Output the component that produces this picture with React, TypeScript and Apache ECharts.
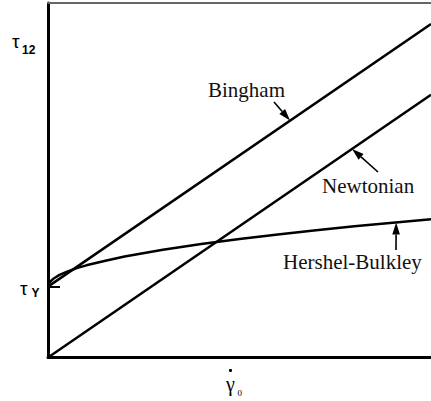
import React, { useEffect, useRef } from "react";
import * as echarts from "echarts";

// Shear stress vs. shear rate for three fluid models (arbitrary units)
const newtonianX = [0, 10];
const newtonianY = [0, 7.41];

const binghamX = [0, 10];
const binghamY = [2, 9.41];

const hbX = [0, 0.05, 0.15, 0.3, 0.5, 0.75, 1, 1.5, 2, 3, 4, 5, 6, 7, 8, 9, 10];
const hbY = [2.0, 2.13, 2.23, 2.33, 2.42, 2.52, 2.6, 2.73, 2.85, 3.04, 3.2, 3.34, 3.47, 3.59, 3.7, 3.8, 3.9];

const yieldStress = 2;

const W = 431;
const H = 401;

const SERIF = "Liberation Serif";
const SANS = "Liberation Sans";

// Callout labels: arrow tail (pixels) and the x value on the curve the arrow points to
const callouts = [
  { name: "Bingham", xs: binghamX, ys: binghamY, atX: 6.32, tail: [274, 102], text: [208, 89.5] },
  { name: "Newtonian", xs: newtonianX, ys: newtonianY, atX: 7.94, tail: [378, 172], text: [322, 185.5] },
  { name: "Hershel-Bulkley", xs: hbX, ys: hbY, atX: 9.09, tail: [396, 250], text: [283, 261.5] },
];

function valueAt(xs: number[], ys: number[], x: number): number {
  for (let i = 0; i < xs.length - 1; i++) {
    if (x >= xs[i] && x <= xs[i + 1]) {
      const t = (x - xs[i]) / (xs[i + 1] - xs[i]);
      return ys[i] + t * (ys[i + 1] - ys[i]);
    }
  }
  return ys[ys.length - 1];
}

const zip = (xs: number[], ys: number[]) => xs.map((x, i) => [x, ys[i]]);

export default function App() {
  const ref = useRef<HTMLDivElement>(null);

  useEffect(() => {
    const chart = echarts.init(ref.current!, null, { renderer: "svg", width: W, height: H });

    const lineSeries = (name: string, xs: number[], ys: number[]) => ({
      type: "line",
      name,
      data: zip(xs, ys),
      symbol: "none",
      silent: true,
      lineStyle: { color: "#000", width: 2.5, join: "round" },
    });

    const hiddenAxisParts = {
      axisTick: { show: false },
      axisLabel: { show: false },
      splitLine: { show: false },
    };

    chart.setOption({
      animation: false,
      grid: { left: 48, top: 3, right: 0, bottom: 43.5 },
      xAxis: [
        {
          type: "value",
          min: 0,
          max: 10,
          position: "bottom",
          axisLine: { onZero: false, lineStyle: { color: "#000", width: 3 } },
          ...hiddenAxisParts,
        },
        {
          type: "value",
          min: 0,
          max: 10,
          position: "top",
          axisLine: { onZero: false, lineStyle: { color: "#666", width: 2 } },
          ...hiddenAxisParts,
        },
      ],
      yAxis: {
        type: "value",
        min: 0,
        max: 10,
        axisLine: { show: true, onZero: false, lineStyle: { color: "#000", width: 3 } },
        axisTick: {
          show: true,
          inside: true,
          length: 12,
          customValues: [yieldStress],
          lineStyle: { color: "#000", width: 2 },
        },
        axisLabel: { show: false },
        splitLine: { show: false },
      },
      series: [
        lineSeries("Newtonian", newtonianX, newtonianY),
        lineSeries("Bingham", binghamX, binghamY),
        lineSeries("Hershel-Bulkley", hbX, hbY),
      ],
    });

    const graphics: any[] = [];

    const txt = (
      x: number,
      y: number,
      text: string,
      fontFamily: string,
      fontSize: number,
      fontWeight: string = "normal",
      fill: string = "#000"
    ) => ({
      type: "text",
      x,
      y,
      style: { text, fontFamily, fontSize, fontWeight, fill, verticalAlign: "middle", align: "left" },
      silent: true,
    });

    callouts.forEach((c) => {
      const tip = chart.convertToPixel({ gridIndex: 0 }, [c.atX, valueAt(c.xs, c.ys, c.atX)]) as number[];
      const [tx, ty] = c.tail;
      const dx = tip[0] - tx;
      const dy = tip[1] - ty;
      const len = Math.hypot(dx, dy);
      const ux = dx / len;
      const uy = dy / len;
      const headLen = 12;
      const halfW = 3.8;
      const bx = tip[0] - ux * headLen;
      const by = tip[1] - uy * headLen;
      graphics.push({
        type: "line",
        shape: { x1: tx, y1: ty, x2: bx, y2: by },
        style: { stroke: "#000", lineWidth: 1.6 },
        silent: true,
      });
      graphics.push({
        type: "polygon",
        shape: {
          points: [
            [tip[0], tip[1]],
            [bx - uy * halfW, by + ux * halfW],
            [bx + uy * halfW, by - ux * halfW],
          ],
        },
        style: { fill: "#000" },
        silent: true,
      });
      graphics.push(txt(c.text[0], c.text[1], c.name, SERIF, 21, "normal", "#111"));
    });

    // Axis labels: tau_12, tau_Y and shear rate gamma-dot_0
    graphics.push(txt(12, 41.5, "τ", SANS, 19));
    graphics.push(txt(22, 50, "12", SANS, 12, "bold"));
    graphics.push(txt(20, 288.5, "τ", SANS, 19));
    graphics.push(txt(31.5, 293, "Y", SANS, 12, "bold"));
    graphics.push(txt(226, 384, "γ", SERIF, 20));
    graphics.push(txt(237.5, 393, "0", SERIF, 9));
    graphics.push({
      type: "circle",
      shape: { cx: 230.5, cy: 370.5, r: 1.6 },
      style: { fill: "#000" },
      silent: true,
    });

    chart.setOption({ graphic: { elements: graphics } });

    return () => {
      chart.dispose();
    };
  }, []);

  return (
    <div
      ref={ref}
      style={{ position: "fixed", left: 0, top: 0, width: W, height: H, background: "#fff" }}
    />
  );
}
